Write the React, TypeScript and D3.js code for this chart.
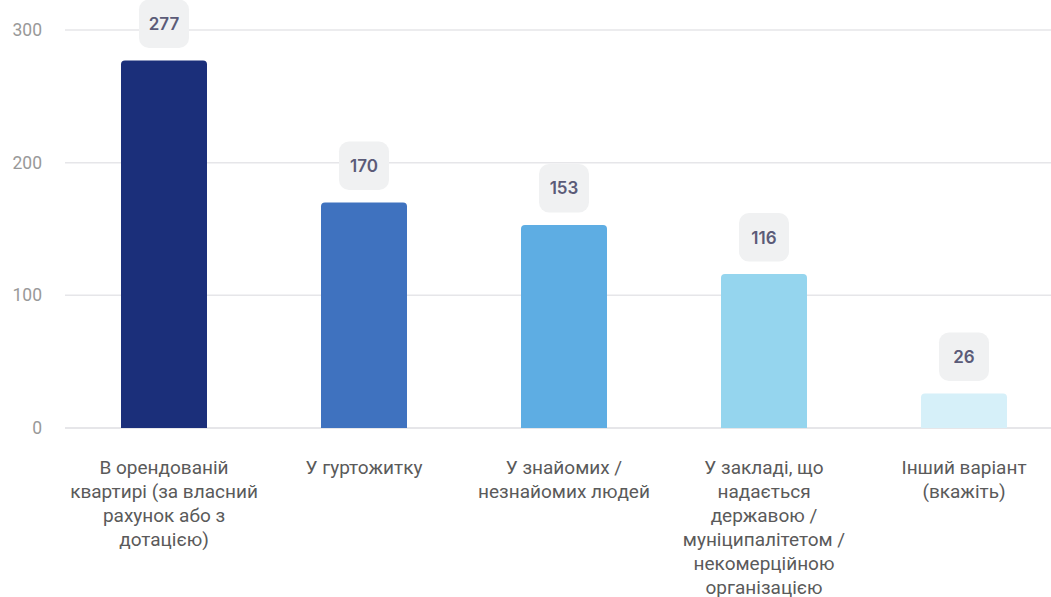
import React from "react";
import * as d3 from "d3";

const categories: string[][] = [
  ["В орендованій", "квартирі (за власний", "рахунок або з", "дотацією)"],
  ["У гуртожитку"],
  ["У знайомих /", "незнайомих людей"],
  ["У закладі, що", "надається", "державою /", "муніципалітетом /", "некомерційною", "організацією"],
  ["Інший варіант", "(вкажіть)"],
];
const values: number[] = [277, 170, 153, 116, 26];
const colors: string[] = ["#1b2f7a", "#3f72bf", "#5eade3", "#95d5ee", "#d6f0f9"];
const yTicks: number[] = [0, 100, 200, 300];

const W = 1051;
const H = 597;
const FONT = "Inter, Roboto, 'Noto Sans', sans-serif";
const LABEL_FONT = "Roboto, 'Noto Sans', sans-serif";

export default function App() {
  const x = d3
    .scaleBand<number>()
    .domain(values.map((_, i) => i))
    .range([64, 1064])
    .paddingInner(0.57)
    .paddingOuter(0.285);
  const y = d3.scaleLinear().domain([0, 300]).range([428, 30]);
  const bw = x.bandwidth();
  const r = 4;

  const barPath = (x0: number, y0: number, w: number, h: number) => {
    const rr = Math.min(r, h);
    return `M${x0},${y0 + h}V${y0 + rr}Q${x0},${y0} ${x0 + rr},${y0}H${x0 + w - rr}Q${x0 + w},${y0} ${x0 + w},${y0 + rr}V${y0 + h}Z`;
  };

  return (
    <svg
      width={W}
      height={H}
      style={{ position: "fixed", left: 0, top: 0, background: "#fff" }}
      fontFamily={FONT}
    >
      {yTicks.map((t) => (
        <g key={t}>
          <line x1={65} x2={W} y1={y(t)} y2={y(t)} stroke="#e6e6e9" strokeWidth={t === 0 ? 2 : 1.5} />
          <text x={42} y={y(t)} dy="0.35em" textAnchor="end" fontSize={17.5} fill="#999" fontFamily={LABEL_FONT}>
            {t}
          </text>
        </g>
      ))}
      {values.map((v, i) => {
        const x0 = x(i)!;
        const cx = x0 + bw / 2;
        const top = y(v);
        const bh = y(0) - top;
        const bTop = top - 12.5 - 48.5;
        return (
          <g key={i}>
            <path d={barPath(x0, top, bw, bh)} fill={colors[i]} />
            <rect x={cx - 25} y={bTop} width={50} height={48.5} rx={10} fill="#f0f1f2" />
            <text x={cx} y={bTop + 24.5} dy="0.35em" textAnchor="middle" fontSize={17} fontWeight={600} fill="#5b5b78">
              {v}
            </text>
            {categories[i].map((line, j) => (
              <text
                key={j}
                x={cx}
                y={467 + j * 24}
                dy="0.35em"
                textAnchor="middle"
                fontSize={19}
                fill="#5a5a5a"
                fontFamily={LABEL_FONT}
              >
                {line}
              </text>
            ))}
          </g>
        );
      })}
    </svg>
  );
}
